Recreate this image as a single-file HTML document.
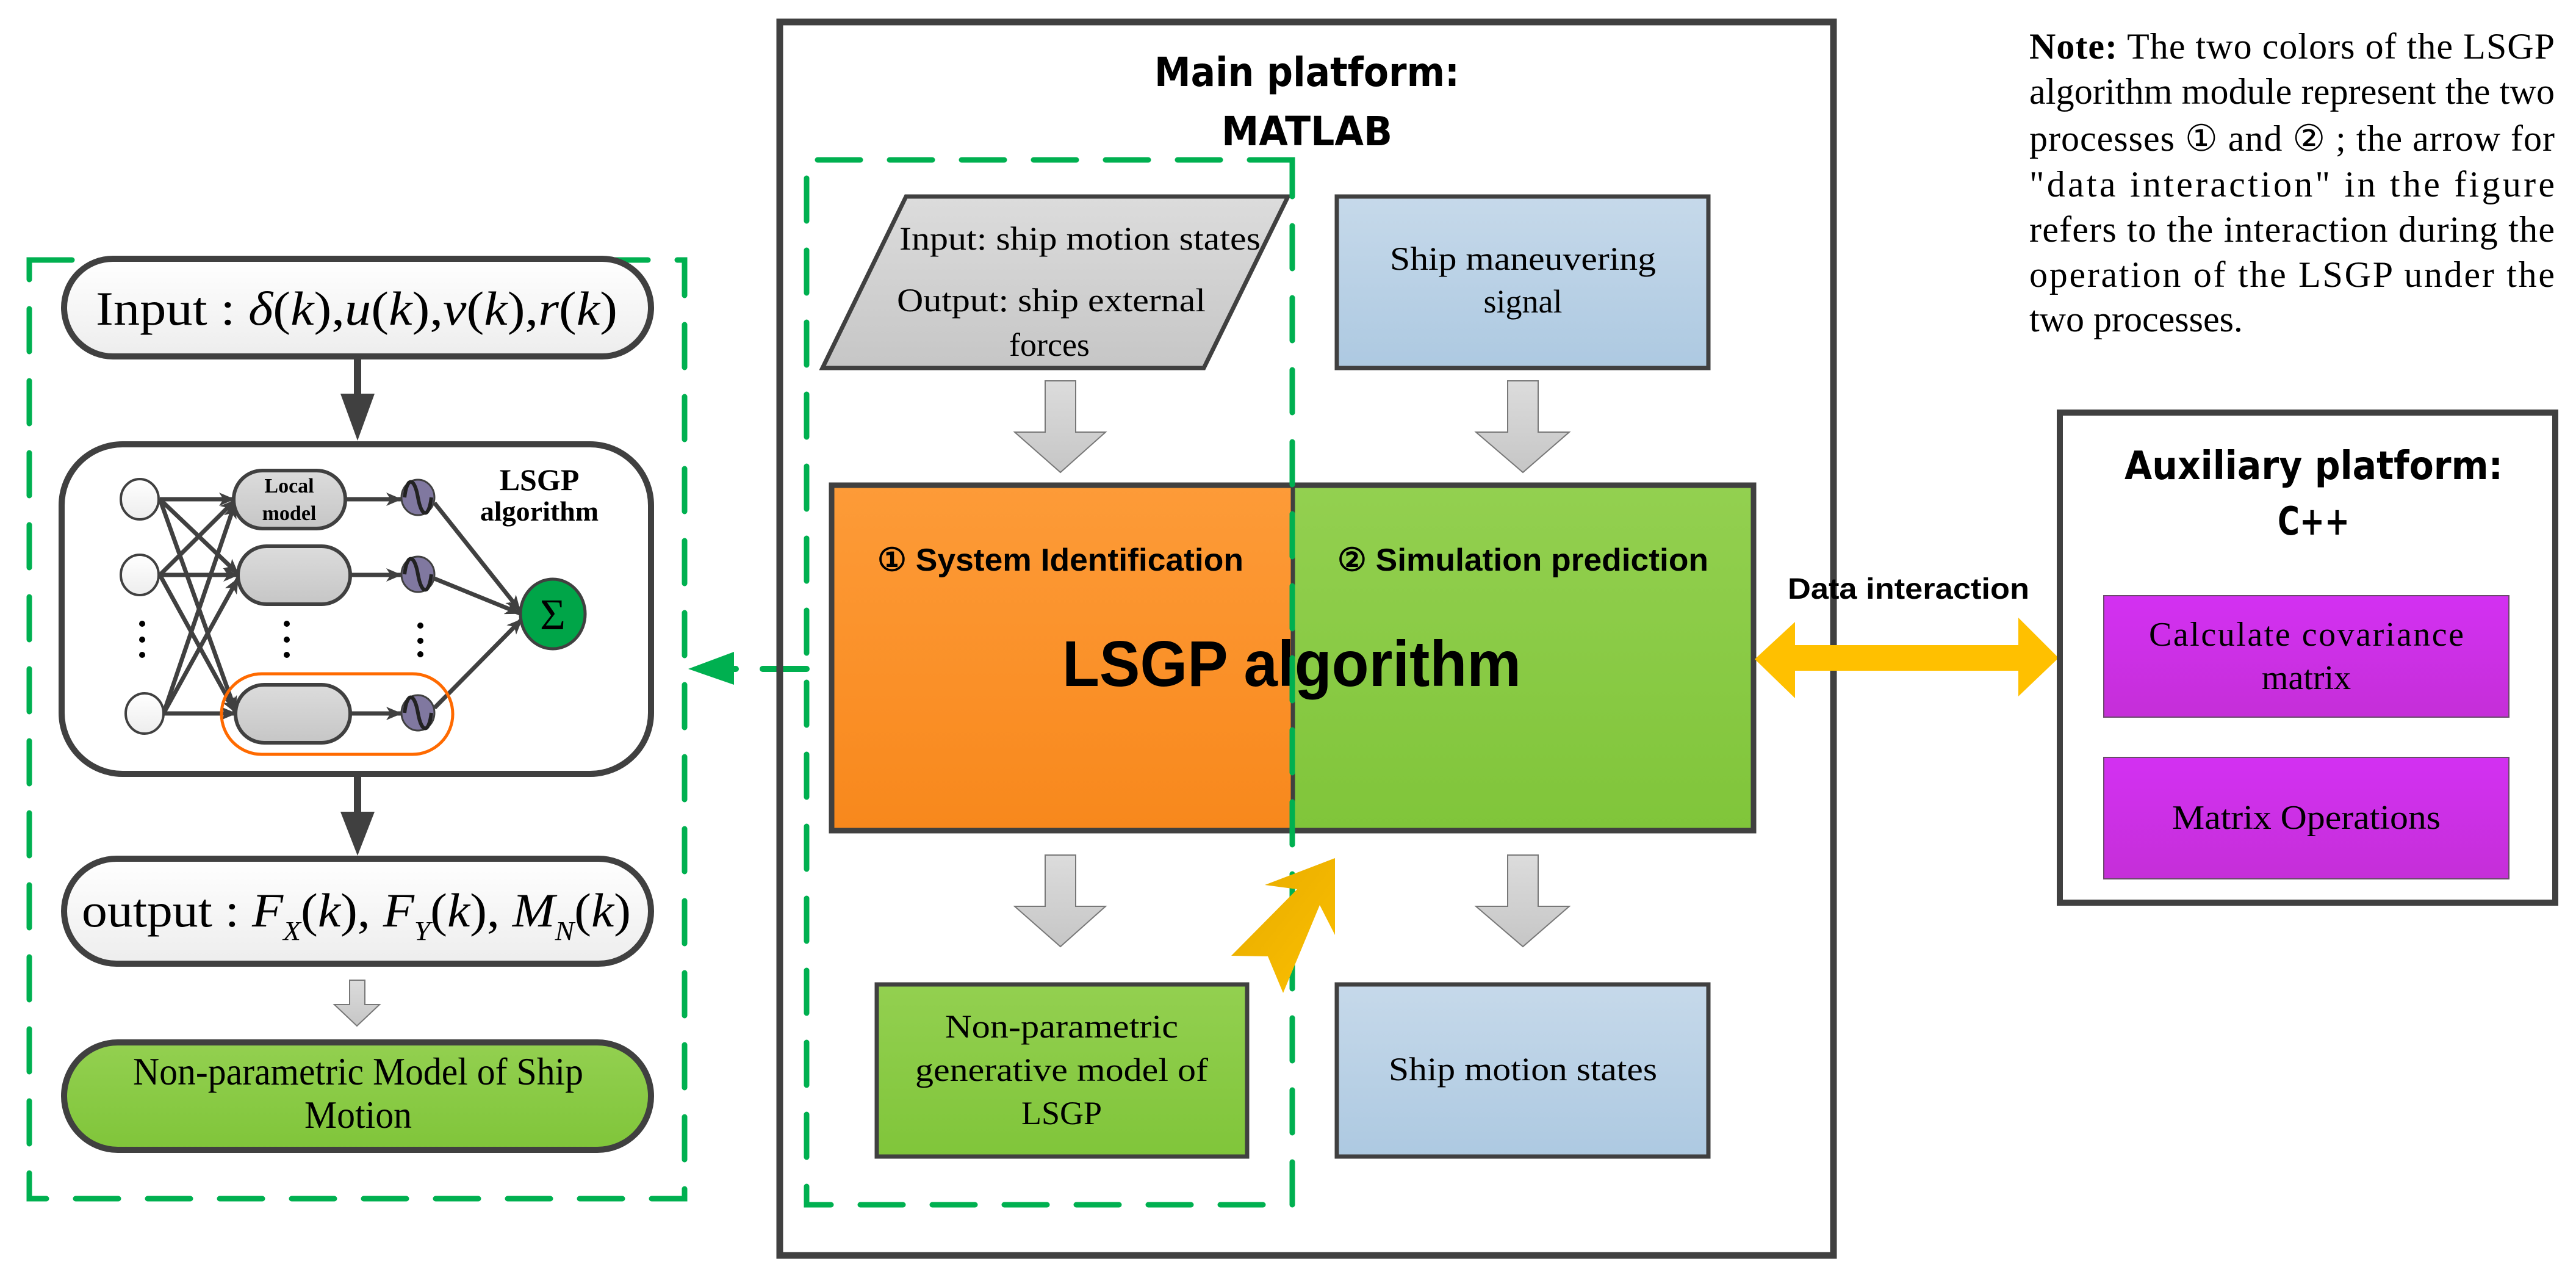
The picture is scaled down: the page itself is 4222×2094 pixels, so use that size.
<!DOCTYPE html>
<html><head><meta charset="utf-8"><style>
html,body{margin:0;padding:0;background:#fff;}
svg{display:block;}
</style></head><body>
<svg width="4222" height="2094" viewBox="0 0 4222 2094" xmlns="http://www.w3.org/2000/svg">
<defs>
<linearGradient id="gw" x1="0" y1="0" x2="0" y2="1"><stop offset="0" stop-color="#ffffff"/><stop offset="1" stop-color="#ededed"/></linearGradient>
<linearGradient id="gg" x1="0" y1="0" x2="0" y2="1"><stop offset="0" stop-color="#93d050"/><stop offset="1" stop-color="#80c53a"/></linearGradient>
<linearGradient id="go" x1="0" y1="0" x2="0" y2="1"><stop offset="0" stop-color="#fd9b38"/><stop offset="1" stop-color="#f8881c"/></linearGradient>
<linearGradient id="gb" x1="0" y1="0" x2="0" y2="1"><stop offset="0" stop-color="#c6d9ea"/><stop offset="1" stop-color="#adc9e1"/></linearGradient>
<linearGradient id="gs" x1="0" y1="0" x2="0" y2="1"><stop offset="0" stop-color="#dcdcdc"/><stop offset="1" stop-color="#c6c6c6"/></linearGradient>
<linearGradient id="gp" x1="0" y1="0" x2="0" y2="1"><stop offset="0" stop-color="#d330f2"/><stop offset="1" stop-color="#c52fd8"/></linearGradient>
<linearGradient id="gy" x1="0" y1="0" x2="1" y2="1"><stop offset="0" stop-color="#e6aa00"/><stop offset="1" stop-color="#fcc000"/></linearGradient>
<marker id="ah" markerWidth="26" markerHeight="22" refX="24" refY="11" orient="auto" markerUnits="userSpaceOnUse" viewBox="0 0 26 22"><path d="M0,0 L26,11 L0,22 L7,11 z" fill="#404040"/></marker>
</defs>

<!-- LEFT DASHED PANEL -->
<rect x="48" y="426" width="1074" height="1538" fill="none" stroke="#00b050" stroke-width="9" stroke-dasharray="70 48" stroke-linecap="round"/>

<!-- input pill -->
<rect x="105" y="424" width="962" height="160" rx="80" fill="url(#gw)" stroke="#404040" stroke-width="10"/>
<text x="157" y="532" font-family="Liberation Serif, serif" font-size="78" textLength="855" lengthAdjust="spacingAndGlyphs">Input : <tspan font-style="italic">δ</tspan>(<tspan font-style="italic">k</tspan>),<tspan font-style="italic">u</tspan>(<tspan font-style="italic">k</tspan>),<tspan font-style="italic">v</tspan>(<tspan font-style="italic">k</tspan>),<tspan font-style="italic">r</tspan>(<tspan font-style="italic">k</tspan>)</text>
<line x1="586" y1="588" x2="586" y2="660" stroke="#404040" stroke-width="12"/>
<polygon points="558,645 614,645 586,722" fill="#404040"/>

<!-- LSGP network box -->
<rect x="101" y="728" width="966" height="540" rx="100" fill="#fff" stroke="#404040" stroke-width="10"/>
<g stroke="#404040" stroke-width="7" fill="none">
<line x1="262" y1="818" x2="383" y2="818" marker-end="url(#ah)"/>
<line x1="262" y1="818" x2="390" y2="940" marker-end="url(#ah)"/>
<line x1="262" y1="818" x2="386" y2="1165" marker-end="url(#ah)"/>
<line x1="262" y1="942" x2="385" y2="820" marker-end="url(#ah)"/>
<line x1="262" y1="942" x2="390" y2="942" marker-end="url(#ah)"/>
<line x1="262" y1="942" x2="386" y2="1167" marker-end="url(#ah)"/>
<line x1="268" y1="1169" x2="385" y2="825" marker-end="url(#ah)"/>
<line x1="268" y1="1169" x2="390" y2="948" marker-end="url(#ah)"/>
<line x1="268" y1="1169" x2="386" y2="1169" marker-end="url(#ah)"/>
<line x1="566" y1="818" x2="657" y2="818" marker-end="url(#ah)"/>
<line x1="574" y1="942" x2="657" y2="942" marker-end="url(#ah)"/>
<line x1="574" y1="1169" x2="657" y2="1169" marker-end="url(#ah)"/>
<line x1="712" y1="824" x2="852" y2="1000" marker-end="url(#ah)"/>
<line x1="712" y1="948" x2="852" y2="1005" marker-end="url(#ah)"/>
<line x1="712" y1="1160" x2="855" y2="1015" marker-end="url(#ah)"/>
</g>
<g fill="url(#gw)" stroke="#404040" stroke-width="4">
<ellipse cx="229" cy="818" rx="31" ry="33"/>
<ellipse cx="229" cy="942" rx="31" ry="33"/>
<ellipse cx="237" cy="1169" rx="31" ry="33"/>
</g>
<g fill="url(#gs)" stroke="#404040" stroke-width="6">
<rect x="383" y="771" width="183" height="95" rx="47"/>
<rect x="390" y="895" width="184" height="95" rx="47"/>
<rect x="386" y="1122" width="188" height="95" rx="47"/>
</g>
<text x="474" y="807" text-anchor="middle" font-family="Liberation Serif, serif" font-weight="bold" font-size="34">Local</text>
<text x="474" y="852" text-anchor="middle" font-family="Liberation Serif, serif" font-weight="bold" font-size="34">model</text>
<rect x="363" y="1104" width="379" height="132" rx="66" fill="none" stroke="#ff6a00" stroke-width="5"/>
<g>
<g transform="translate(685,815)"><ellipse rx="27" ry="29" fill="#8078a0" stroke="#404040" stroke-width="3"/><path d="M-22,0 C-18,-34 -6,-34 0,0 S18,34 22,0" fill="none" stroke="#222" stroke-width="6"/></g>
<g transform="translate(685,941)"><ellipse rx="27" ry="29" fill="#8078a0" stroke="#404040" stroke-width="3"/><path d="M-22,0 C-18,-34 -6,-34 0,0 S18,34 22,0" fill="none" stroke="#222" stroke-width="6"/></g>
<g transform="translate(685,1168)"><ellipse rx="27" ry="29" fill="#8078a0" stroke="#404040" stroke-width="3"/><path d="M-22,0 C-18,-34 -6,-34 0,0 S18,34 22,0" fill="none" stroke="#222" stroke-width="6"/></g>
</g>
<g fill="#000">
<circle cx="233" cy="1022" r="5"/><circle cx="233" cy="1048" r="5"/><circle cx="233" cy="1073" r="5"/>
<circle cx="470" cy="1022" r="5"/><circle cx="470" cy="1048" r="5"/><circle cx="470" cy="1073" r="5"/>
<circle cx="689" cy="1025" r="5"/><circle cx="689" cy="1050" r="5"/><circle cx="689" cy="1072" r="5"/>
</g>
<ellipse cx="906" cy="1006" rx="53" ry="57" fill="#00a548" stroke="#404040" stroke-width="5"/>
<text x="906" y="1031" text-anchor="middle" font-family="Liberation Serif, serif" font-size="72">Σ</text>
<text x="884" y="803" text-anchor="middle" font-family="Liberation Serif, serif" font-weight="bold" font-size="50">LSGP</text>
<text x="884" y="853" text-anchor="middle" font-family="Liberation Serif, serif" font-weight="bold" font-size="46">algorithm</text>

<line x1="586" y1="1270" x2="586" y2="1340" stroke="#404040" stroke-width="12"/>
<polygon points="558,1330 614,1330 586,1402" fill="#404040"/>

<!-- output pill -->
<rect x="105" y="1407" width="962" height="172" rx="86" fill="url(#gw)" stroke="#404040" stroke-width="10"/>
<text x="134" y="1518" font-family="Liberation Serif, serif" font-size="78" textLength="900" lengthAdjust="spacingAndGlyphs">output : <tspan font-style="italic">F</tspan><tspan font-style="italic" font-size="44" dy="22">X</tspan><tspan dy="-22">(</tspan><tspan font-style="italic">k</tspan>), <tspan font-style="italic">F</tspan><tspan font-style="italic" font-size="44" dy="22">Y</tspan><tspan dy="-22">(</tspan><tspan font-style="italic">k</tspan>), <tspan font-style="italic">M</tspan><tspan font-style="italic" font-size="44" dy="22">N</tspan><tspan dy="-22">(</tspan><tspan font-style="italic">k</tspan>)</text>
<polygon points="573,1606 598,1606 598,1646 622,1646 585,1681 548,1646 573,1646" fill="url(#gs)" stroke="#777" stroke-width="2"/>

<rect x="105" y="1708" width="962" height="176" rx="88" fill="url(#gg)" stroke="#404040" stroke-width="10"/>
<text x="587" y="1777" text-anchor="middle" font-family="Liberation Serif, serif" font-size="64" textLength="738" lengthAdjust="spacingAndGlyphs">Non-parametric Model of Ship</text>
<text x="587" y="1848" text-anchor="middle" font-family="Liberation Serif, serif" font-size="64" textLength="176" lengthAdjust="spacingAndGlyphs">Motion</text>

<!-- green arrow left -->
<polygon points="1128,1096 1203,1068 1203,1122" fill="#00b050"/>
<line x1="1203" y1="1096" x2="1206" y2="1096" stroke="#00b050" stroke-width="10" stroke-linecap="round"/>
<line x1="1250" y1="1096" x2="1322" y2="1096" stroke="#00b050" stroke-width="10" stroke-linecap="round"/>

<!-- MAIN PLATFORM -->
<rect x="1278" y="36" width="1727" height="2021" fill="none" stroke="#404040" stroke-width="11"/>
<text x="2142" y="141" text-anchor="middle" font-family="DejaVu Sans, Liberation Sans, sans-serif" font-weight="bold" font-size="66" textLength="500" lengthAdjust="spacingAndGlyphs">Main platform:</text>
<text x="2142" y="238" text-anchor="middle" font-family="DejaVu Sans, Liberation Sans, sans-serif" font-weight="bold" font-size="66" textLength="280" lengthAdjust="spacingAndGlyphs">MATLAB</text>

<polygon points="1485,322 2111,322 1973,603 1348,603" fill="url(#gs)" stroke="#404040" stroke-width="7"/>
<text x="1474" y="409" font-family="Liberation Serif, serif" font-size="54" textLength="592" lengthAdjust="spacingAndGlyphs">Input: ship motion states</text>
<text x="1470" y="510" font-family="Liberation Serif, serif" font-size="54" textLength="506" lengthAdjust="spacingAndGlyphs">Output: ship external</text>
<text x="1720" y="583" text-anchor="middle" font-family="Liberation Serif, serif" font-size="54">forces</text>

<rect x="2191" y="322" width="609" height="281" fill="url(#gb)" stroke="#404040" stroke-width="7"/>
<text x="2496" y="442" text-anchor="middle" font-family="Liberation Serif, serif" font-size="54" textLength="436" lengthAdjust="spacingAndGlyphs">Ship maneuvering</text>
<text x="2496" y="512" text-anchor="middle" font-family="Liberation Serif, serif" font-size="54">signal</text>

<g fill="url(#gs)" stroke="#777" stroke-width="2">
<polygon points="1713,624 1763,624 1763,708 1812,708 1738,774 1663,708 1713,708"/>
<polygon points="2471,624 2521,624 2521,708 2572,708 2496,774 2419,708 2471,708"/>
<polygon points="1713,1401 1763,1401 1763,1485 1812,1485 1738,1551 1663,1485 1713,1485"/>
<polygon points="2471,1401 2521,1401 2521,1485 2572,1485 2496,1551 2419,1485 2471,1485"/>
</g>

<rect x="1363" y="795" width="756" height="566" fill="url(#go)"/>
<rect x="2119" y="795" width="755" height="566" fill="url(#gg)"/>
<rect x="1363" y="795" width="1511" height="566" fill="none" stroke="#404040" stroke-width="9"/>
<line x1="2119" y1="795" x2="2119" y2="1361" stroke="#404040" stroke-width="7"/>
<text x="1738" y="935" text-anchor="middle" font-family="Liberation Sans, sans-serif" font-weight="bold" font-size="52" textLength="600" lengthAdjust="spacingAndGlyphs">① System Identification</text>
<text x="2496" y="935" text-anchor="middle" font-family="Liberation Sans, sans-serif" font-weight="bold" font-size="52" textLength="608" lengthAdjust="spacingAndGlyphs">② Simulation prediction</text>
<text x="2117" y="1124" text-anchor="middle" font-family="Liberation Sans, sans-serif" font-weight="bold" font-size="106" textLength="752" lengthAdjust="spacingAndGlyphs">LSGP algorithm</text>

<rect x="1437" y="1613" width="607" height="282" fill="url(#gg)" stroke="#404040" stroke-width="7"/>
<text x="1740" y="1700" text-anchor="middle" font-family="Liberation Serif, serif" font-size="54" textLength="382" lengthAdjust="spacingAndGlyphs">Non-parametric</text>
<text x="1740" y="1771" text-anchor="middle" font-family="Liberation Serif, serif" font-size="54" textLength="480" lengthAdjust="spacingAndGlyphs">generative model of</text>
<text x="1740" y="1842" text-anchor="middle" font-family="Liberation Serif, serif" font-size="54">LSGP</text>

<rect x="2191" y="1613" width="609" height="282" fill="url(#gb)" stroke="#404040" stroke-width="7"/>
<text x="2496" y="1770" text-anchor="middle" font-family="Liberation Serif, serif" font-size="54" textLength="440" lengthAdjust="spacingAndGlyphs">Ship motion states</text>

<!-- inner dashed green -->
<path d="M2118,262 L1322,262 L1322,1974 L2118,1974 Z" fill="none" stroke="#00b050" stroke-width="9" stroke-dasharray="70 48" stroke-linecap="round"/>

<!-- yellow diagonal arrow -->
<polygon points="2188,1406 2188,1532 2163,1483 2103,1627 2078,1567 2018,1566 2126,1457 2073,1450" fill="url(#gy)"/>

<!-- data interaction arrow -->
<polygon points="2876,1080 2942,1019 2942,1057 3308,1057 3308,1012 3374,1078 3308,1141 3308,1099 2942,1099 2942,1144" fill="#ffc000"/>
<text x="3128" y="981" text-anchor="middle" font-family="Liberation Sans, sans-serif" font-weight="bold" font-size="48" textLength="396" lengthAdjust="spacingAndGlyphs">Data interaction</text>

<!-- note -->
<text x="3326" y="96" font-family="Liberation Serif, serif" font-size="60" textLength="861" lengthAdjust="spacing"><tspan font-weight="bold">Note:</tspan> The two colors of the LSGP</text>
<text x="3326" y="170" font-family="Liberation Serif, serif" font-size="60" textLength="861" lengthAdjust="spacing">algorithm module represent the two</text>
<text x="3326" y="247" font-family="Liberation Serif, serif" font-size="60" textLength="861" lengthAdjust="spacing">processes ① and ② ; the arrow for</text>
<text x="3326" y="322" font-family="Liberation Serif, serif" font-size="60" textLength="861" lengthAdjust="spacing">"data interaction" in the figure</text>
<text x="3326" y="396" font-family="Liberation Serif, serif" font-size="60" textLength="861" lengthAdjust="spacing">refers to the interaction during the</text>
<text x="3326" y="470" font-family="Liberation Serif, serif" font-size="60" textLength="861" lengthAdjust="spacing">operation of the LSGP under the</text>
<text x="3326" y="543" font-family="Liberation Serif, serif" font-size="60">two processes.</text>

<!-- auxiliary platform -->
<rect x="3376" y="676" width="812" height="803" fill="#fff" stroke="#404040" stroke-width="10"/>
<text x="3792" y="785" text-anchor="middle" font-family="DejaVu Sans, Liberation Sans, sans-serif" font-weight="bold" font-size="64" textLength="620" lengthAdjust="spacingAndGlyphs">Auxiliary platform:</text>
<text x="3792" y="876" text-anchor="middle" font-family="DejaVu Sans, Liberation Sans, sans-serif" font-weight="bold" font-size="64" textLength="118" lengthAdjust="spacingAndGlyphs">C++</text>
<rect x="3448" y="976" width="664" height="199" fill="url(#gp)" stroke="#6a4a6a" stroke-width="2"/>
<text x="3780" y="1058" text-anchor="middle" font-family="Liberation Serif, serif" font-size="56" textLength="516" lengthAdjust="spacing">Calculate  covariance</text>
<text x="3780" y="1129" text-anchor="middle" font-family="Liberation Serif, serif" font-size="56">matrix</text>
<rect x="3448" y="1241" width="664" height="199" fill="url(#gp)" stroke="#6a4a6a" stroke-width="2"/>
<text x="3780" y="1358" text-anchor="middle" font-family="Liberation Serif, serif" font-size="56" textLength="440" lengthAdjust="spacingAndGlyphs">Matrix Operations</text>
</svg>
</body></html>
